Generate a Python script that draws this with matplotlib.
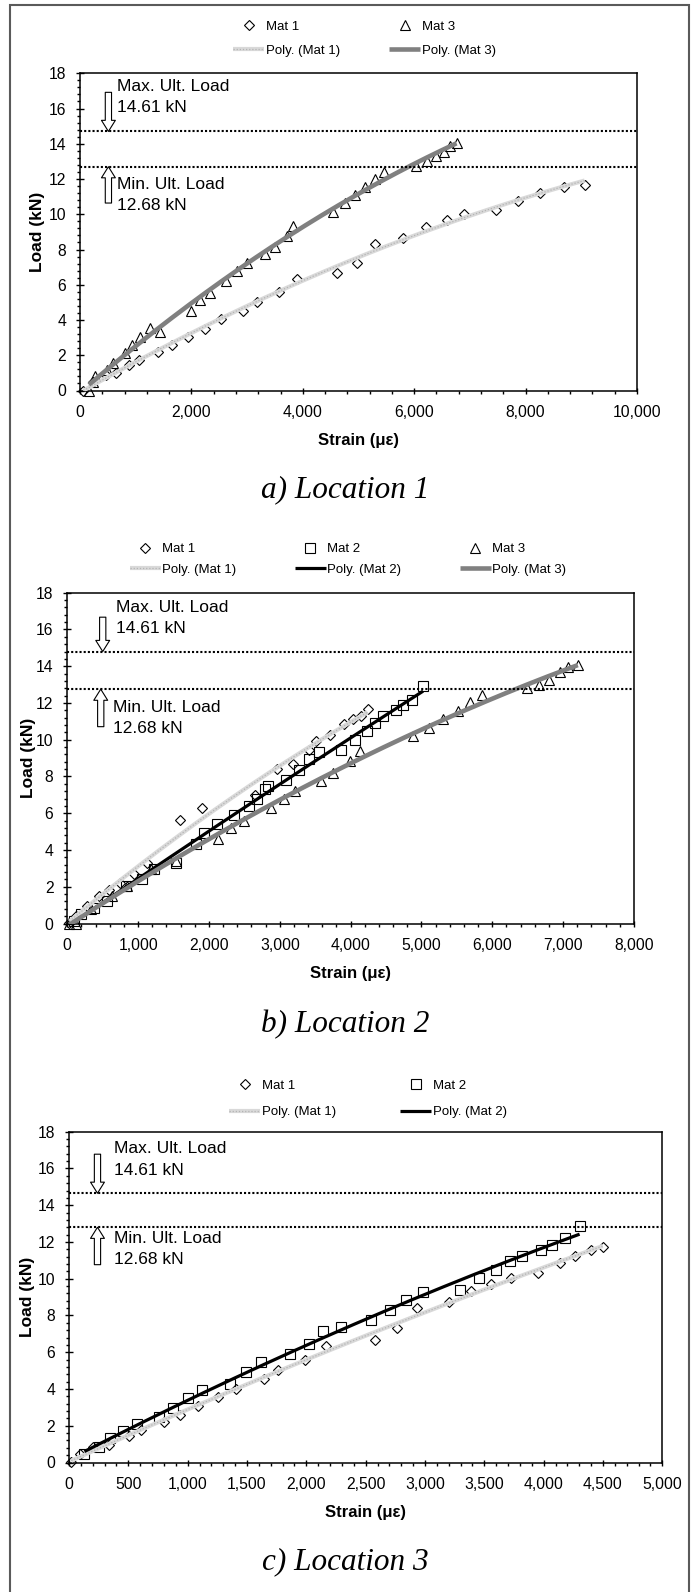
import numpy as np
import matplotlib
matplotlib.use('Agg')
import matplotlib.pyplot as plt
from matplotlib.lines import Line2D
from matplotlib.patches import Rectangle
from matplotlib.ticker import MultipleLocator, StrMethodFormatter

plt.rcParams['font.family'] = ['Liberation Sans', 'DejaVu Sans']

################################################################################
# Data (strain in microstrain, load in kN)
################################################################################
LOC1_MAT1_X = [60, 230, 470, 650, 880, 1060, 1400, 1660, 1940, 2240, 2540, 2920,
               3170, 3580, 3900, 4620, 4970, 5300, 5800, 6210, 6590, 6900, 7460,
               7860, 8250, 8690, 9060]
LOC1_MAT1_Y = [0.0, 0.5, 0.9, 1.0, 1.45, 1.75, 2.2, 2.6, 3.05, 3.5, 4.05, 4.5,
               5.0, 5.6, 6.3, 6.68, 7.25, 8.34, 8.68, 9.29, 9.7, 10.03, 10.26,
               10.78, 11.19, 11.57, 11.68]
LOC1_MAT3_X = [160, 240, 270, 480, 600, 810, 930, 1080, 1260, 1440, 2000, 2150,
               2330, 2630, 2810, 2990, 3320, 3500, 3710, 3830, 4550, 4760, 4940,
               5120, 5300, 5450, 6030, 6230, 6390, 6530, 6640, 6760]
LOC1_MAT3_Y = [0.0, 0.47, 0.82, 1.16, 1.58, 2.1, 2.58, 3.05, 3.53, 3.34, 4.53,
               5.13, 5.55, 6.2, 6.78, 7.25, 7.72, 8.15, 8.76, 9.33, 10.14, 10.65,
               11.12, 11.55, 12.03, 12.4, 12.75, 13.03, 13.31, 13.56, 13.88, 14.06]

LOC2_MAT1_X = [30, 125, 280, 450, 590, 750, 940, 1120, 1590, 1900, 2650, 2960,
               3180, 3410, 3510, 3710, 3900, 4040, 4150, 4240]
LOC2_MAT1_Y = [0.05, 0.4, 0.95, 1.5, 1.85, 2.2, 2.7, 3.3, 5.63, 6.3, 7.0, 8.38,
               8.7, 9.46, 9.91, 10.27, 10.87, 11.13, 11.27, 11.69]
LOC2_MAT2_X = [94, 187, 374, 560, 824, 1060, 1217, 1530, 1810, 1934, 2110, 2360,
               2560, 2680, 2795, 2840, 3090, 3276, 3413, 3557, 3870, 4056, 4231,
               4337, 4462, 4637, 4742, 4867, 5023]
LOC2_MAT2_Y = [0.14, 0.5, 0.87, 1.23, 2.04, 2.4, 2.95, 3.3, 4.3, 4.94, 5.44, 5.93,
               6.42, 6.75, 7.33, 7.47, 7.83, 8.34, 8.95, 9.33, 9.42, 10.0, 10.46,
               10.9, 11.27, 11.63, 11.9, 12.17, 12.9]
LOC2_MAT3_X = [30, 125, 330, 624, 842, 1186, 1529, 2122, 2309, 2496, 2870, 3058,
               3214, 3588, 3757, 3994, 4137, 4886, 5104, 5304, 5522, 5678, 5853,
               6490, 6664, 6802, 6958, 7070, 7207]
LOC2_MAT3_Y = [0.0, 0.0, 0.8, 1.5, 2.04, 2.95, 3.4, 4.58, 5.21, 5.57, 6.3, 6.75,
               7.2, 7.74, 8.19, 8.83, 9.37, 10.18, 10.64, 11.13, 11.54, 12.03,
               12.45, 12.81, 12.99, 13.26, 13.66, 13.98, 14.07]

LOC3_MAT1_X = [19, 93, 205, 335, 503, 607, 801, 939, 1088, 1256, 1408, 1640,
               1762, 1993, 2169, 2582, 2768, 2932, 3204, 3391, 3558, 3726, 3950,
               4136, 4266, 4397, 4497]
LOC3_MAT1_Y = [0.04, 0.48, 0.86, 0.95, 1.43, 1.76, 2.2, 2.61, 3.05, 3.57, 4.0,
               4.52, 5.06, 5.59, 6.34, 6.68, 7.31, 8.4, 8.72, 9.33, 9.73, 10.06,
               10.31, 10.84, 11.26, 11.55, 11.7]
LOC3_MAT2_X = [130, 250, 343, 458, 570, 756, 876, 1006, 1125, 1360, 1490, 1621,
               1863, 2019, 2142, 2292, 2545, 2701, 2839, 2981, 3297, 3454, 3596,
               3715, 3819, 3976, 4072, 4184, 4303]
LOC3_MAT2_Y = [0.48, 0.86, 1.34, 1.72, 2.1, 2.48, 2.96, 3.49, 3.95, 4.29, 4.91,
               5.48, 5.92, 6.43, 7.16, 7.39, 7.73, 8.3, 8.82, 9.3, 9.41, 10.02,
               10.5, 10.94, 11.26, 11.59, 11.83, 12.22, 12.88]

# where the two ultimate-load reference lines were drawn in each panel
ULT_LINES = [(14.7, 12.7), (14.8, 12.75), (14.65, 12.8)]
MAX_TEXT = ["Max. Ult. Load", "14.61 kN"]
MIN_TEXT = ["Min. Ult. Load", "12.68 kN"]
XMAX = [10000, 8000, 5000]
XSTEP = [2000, 1000, 500]
TITLES = ["a) Location 1", "b) Location 2", "c) Location 3"]

################################################################################
# Figure layout (pixels of the 694 x 1592 page)
################################################################################
W, H = 694, 1592
fig = plt.figure(figsize=(W / 100, H / 100), dpi=100)

def rect(l, r, t, b):
    return [l / W, 1 - b / H, (r - l) / W, (b - t) / H]

AX_BOX = [(80, 637, 73.3, 390.5), (67.3, 634, 592.7, 923.5), (69, 662.3, 1131.7, 1462.5)]
YLABEL_RIGHT = [45, 36, 35]
LEG_POS = [(364.5, 38.5), (347.8, 559.4), (368, 1099)]
LEG_COLSP = [3.75, 4.45, 4.9]
LEG_ROWSP = [0.9, 0.6, 1.1]
TITLE_Y = [490, 1025, 1562]
# text and arrow placement in axes fractions
MAX_TXT_POS = [(0.066, 0.958, 0.893), (0.086, 0.956, 0.892), (0.076, 0.948, 0.883)]
MIN_TXT_POS = [(0.066, 0.648, 0.583), (0.080, 0.654, 0.590), (0.076, 0.678, 0.614)]
MAX_ARROW = [(0.051, 0.940), (0.0625, 0.926), (0.048, 0.932)]
MIN_ARROW = [(0.051, 0.591), (0.059, 0.595), (0.048, 0.598)]

MAT_STYLE = {
    'Mat 1': dict(marker='D', ms=5.4),
    'Mat 2': dict(marker='s', ms=7.2),
    'Mat 3': dict(marker='^', ms=7.8),
}
TREND_STYLE = {
    'Mat 1': dict(color='#d9d9d9', lw=3.0),
    'Mat 2': dict(color='black', lw=2.3),
    'Mat 3': dict(color='#808080', lw=3.3),
}
# Excel draws the Mat 1 trendline with a fine dotted pattern
PATTERN = dict(color='#b4b4b4', lw=0.9, ls=(0, (1, 1.5)))

panels = [
    [('Mat 1', LOC1_MAT1_X, LOC1_MAT1_Y), ('Mat 3', LOC1_MAT3_X, LOC1_MAT3_Y)],
    [('Mat 1', LOC2_MAT1_X, LOC2_MAT1_Y), ('Mat 2', LOC2_MAT2_X, LOC2_MAT2_Y),
     ('Mat 3', LOC2_MAT3_X, LOC2_MAT3_Y)],
    [('Mat 1', LOC3_MAT1_X, LOC3_MAT1_Y), ('Mat 2', LOC3_MAT2_X, LOC3_MAT2_Y)],
]

for i, series in enumerate(panels):
    ax = fig.add_axes(rect(*AX_BOX[i]))
    handles = []
    for name, xs, ys in series:
        xs = np.array(xs, float)
        ys = np.array(ys, float)
        ax.plot(xs, ys, linestyle='none', mfc='none', mec='black', mew=0.8,
                clip_on=False, zorder=2, **MAT_STYLE[name])
        # polynomial trendline as in the spreadsheet
        coef = np.polyfit(xs, ys, 2)
        xx = np.linspace(xs.min(), xs.max(), 200)
        ax.plot(xx, np.polyval(coef, xx), solid_capstyle='butt', zorder=3,
                **TREND_STYLE[name])
        h_mark = Line2D([], [], linestyle='none', mfc='none', mec='black',
                        mew=0.8, **MAT_STYLE[name])
        h_line = Line2D([], [], solid_capstyle='butt', **TREND_STYLE[name])
        if name == 'Mat 1':
            ax.plot(xx, np.polyval(coef, xx), zorder=3.1, **PATTERN)
            h_line = (h_line, Line2D([], [], **PATTERN))
        handles.append((h_mark, name))
        handles.append((h_line, f'Poly. ({name})'))

    hi, lo = ULT_LINES[i]
    for v in (hi, lo):
        ax.axhline(v, color='black', lw=1.5, ls=(0, (1, 1)), zorder=4)

    ax.set_xlim(0, XMAX[i])
    ax.set_ylim(0, 18)
    ax.xaxis.set_major_locator(MultipleLocator(XSTEP[i]))
    ax.xaxis.set_minor_locator(MultipleLocator(XSTEP[i] / 5))
    ax.yaxis.set_major_locator(MultipleLocator(2))
    ax.yaxis.set_minor_locator(MultipleLocator(0.4))
    ax.xaxis.set_major_formatter(StrMethodFormatter('{x:,.0f}'))
    ax.tick_params(axis='x', which='major', direction='inout', length=4.5,
                   width=1, pad=8.5, labelsize=11.3)
    ax.tick_params(axis='x', which='minor', direction='out', length=2.4, width=1)
    ax.tick_params(axis='y', which='major', direction='inout', length=6,
                   width=1, pad=7, labelsize=11.3)
    ax.tick_params(axis='y', which='minor', direction='out', length=2.2, width=1)
    for s in ax.spines.values():
        s.set_linewidth(1.1)

    ax.set_xlabel('Strain (\u03bc\u03b5)', fontsize=12, fontweight='bold', labelpad=9)
    ax.set_ylabel('Load (kN)', fontsize=12.5, fontweight='bold')
    l, r = AX_BOX[i][0], AX_BOX[i][1]
    ax.yaxis.set_label_coords((YLABEL_RIGHT[i] - l) / (r - l), 0.5)

    # reference load labels and hollow arrows
    tx, y1, y2 = MAX_TXT_POS[i]
    ax.text(tx, y1, MAX_TEXT[0], transform=ax.transAxes, fontsize=12.5, va='center')
    ax.text(tx, y2, MAX_TEXT[1], transform=ax.transAxes, fontsize=12.5, va='center')
    tx, y1, y2 = MIN_TXT_POS[i]
    ax.text(tx, y1, MIN_TEXT[0], transform=ax.transAxes, fontsize=12.5, va='center')
    ax.text(tx, y2, MIN_TEXT[1], transform=ax.transAxes, fontsize=12.5, va='center')
    arrow_props = dict(arrowstyle='simple,head_width=1.0,head_length=0.8,tail_width=0.45',
                       fc='white', ec='black', lw=0.8, shrinkA=0, shrinkB=0,
                       mutation_scale=10)
    ax.annotate('', xy=(MAX_ARROW[i][0], hi / 18), xytext=MAX_ARROW[i],
                xycoords='axes fraction', arrowprops=arrow_props, zorder=5)
    ax.annotate('', xy=(MIN_ARROW[i][0], lo / 18), xytext=MIN_ARROW[i],
                xycoords='axes fraction', arrowprops=arrow_props, zorder=5)

    lx, ly = LEG_POS[i]
    ax.legend([h for h, _ in handles], [lab for _, lab in handles],
              ncol=len(series), loc='center', frameon=False,
              bbox_to_anchor=(lx / W, 1 - ly / H), bbox_transform=fig.transFigure,
              fontsize=9.5, handlelength=2.35, handletextpad=0.1,
              columnspacing=LEG_COLSP[i], labelspacing=LEG_ROWSP[i],
              borderpad=0, numpoints=1)

    fig.text(0.497, 1 - TITLE_Y[i] / H, TITLES[i], ha='center', va='center',
             fontsize=22.5, style='italic', family=['Liberation Serif', 'DejaVu Serif'])

# grey page frame (open at the bottom, as in the cropped original)
fig.patches.append(Rectangle((9.5 / W, -0.01), (689 - 9.5) / W, 1.01 - 5 / H,
                             transform=fig.transFigure, fill=False,
                             ec='#5a5a5a', lw=1.5))

fig.savefig('out.png', dpi=100)
